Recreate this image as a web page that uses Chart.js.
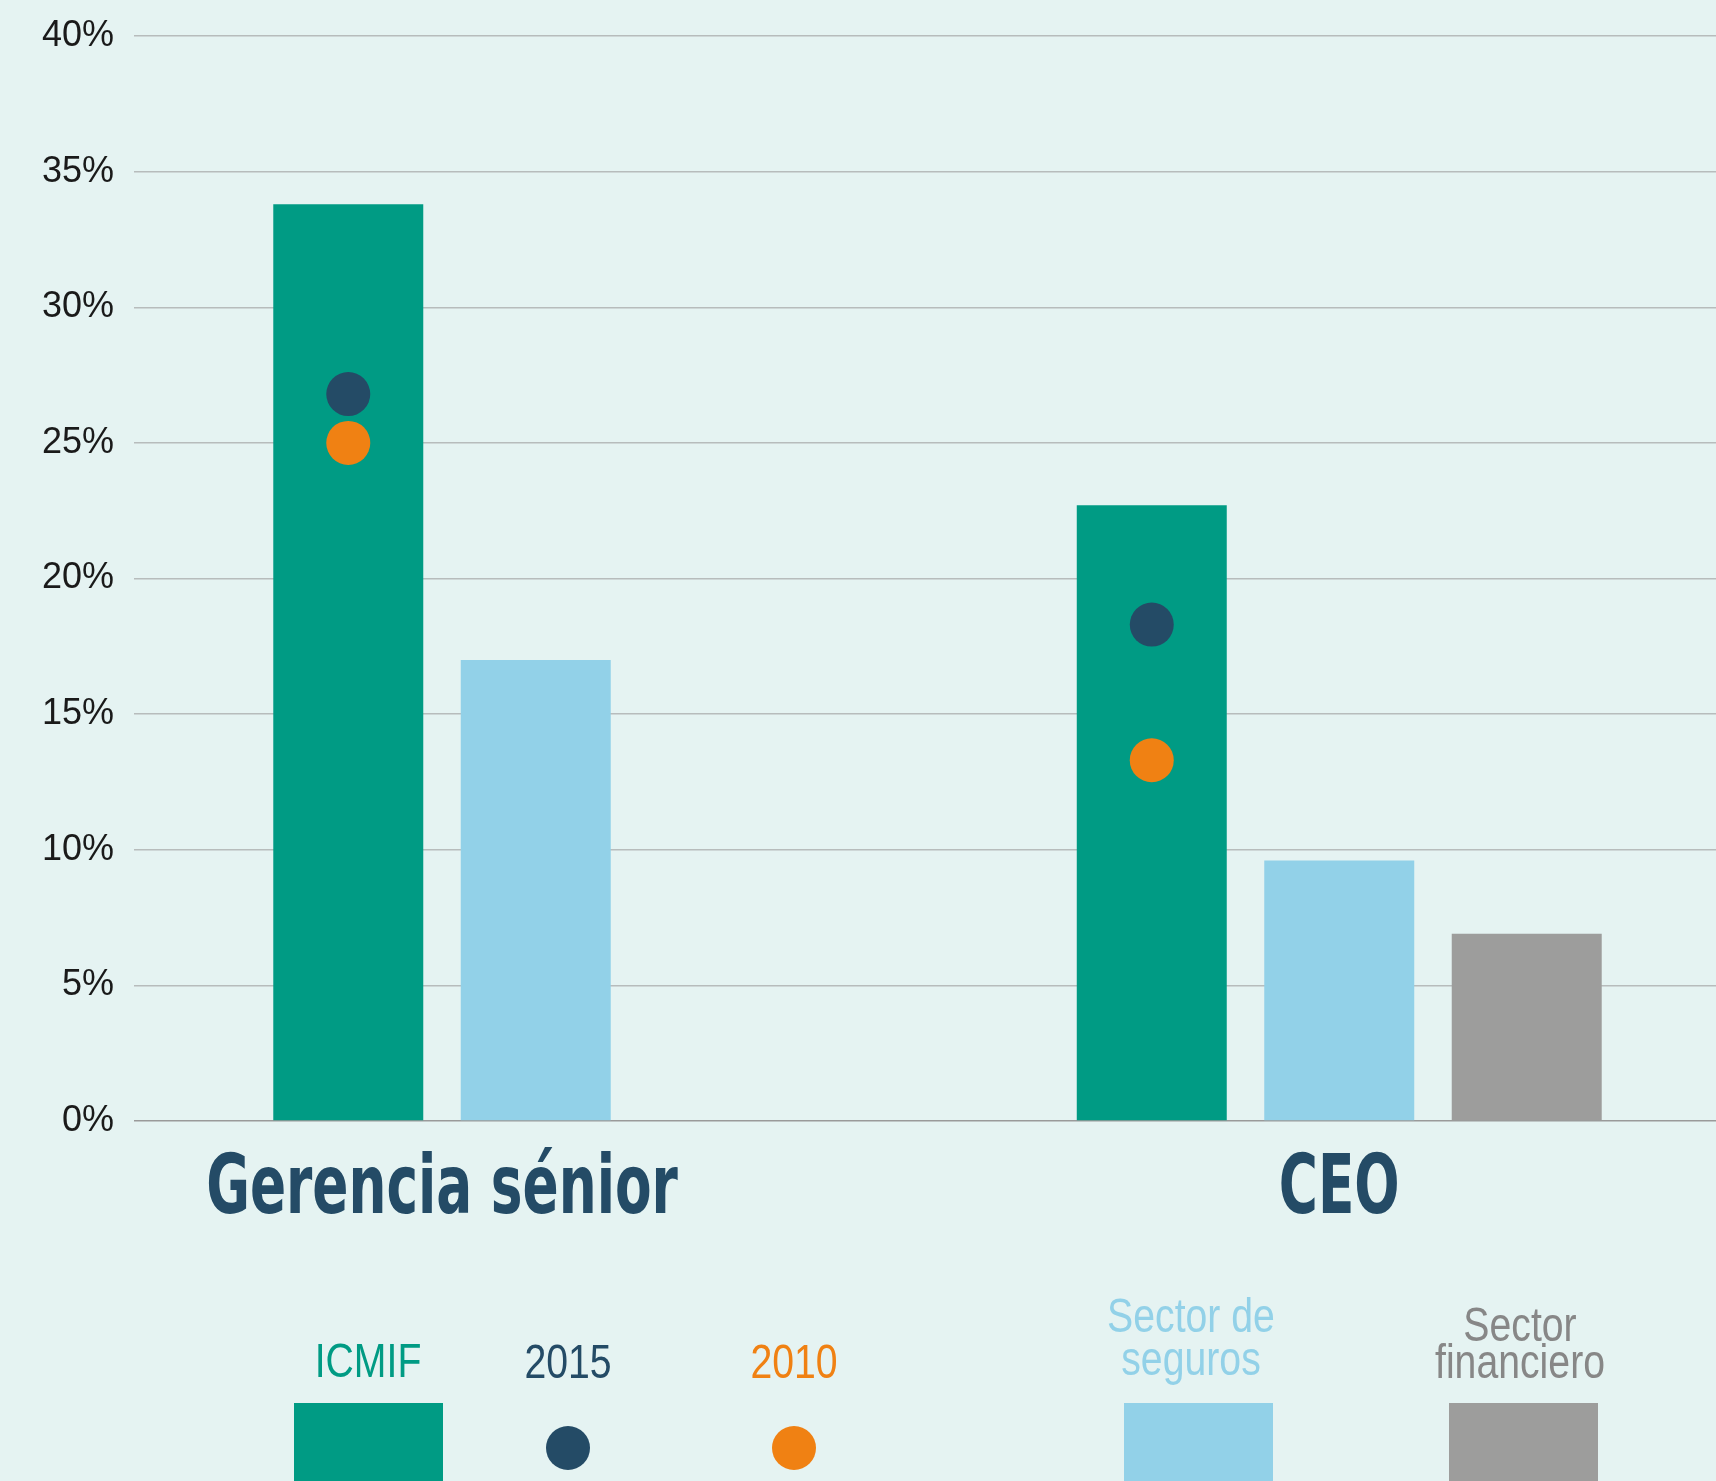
<!DOCTYPE html>
<html>
<head>
<meta charset="utf-8">
<title>ICMIF</title>
<script src="https://cdn.jsdelivr.net/npm/chart.js@4.4.1/dist/chart.umd.min.js"></script>
<style>
  html, body { margin: 0; padding: 0; background: #e5f3f2; overflow: hidden; }
  #wrap { position: relative; width: 1716px; height: 1481px; overflow: hidden; background: #e5f3f2; }
  #chart { position: absolute; left: 0; top: 0; }
</style>
</head>
<body>
<div id="wrap">
  <canvas id="chart" width="1741" height="1481"></canvas>
</div>
<script>
// Data
const categories = ["Gerencia sénior", "CEO"];
const icmif = [33.8, 22.7];
const sectorSeguros = [17.0, 9.6];
const sectorFinanciero = [null, 6.9];
const icmif2015 = [26.8, 18.3];
const icmif2010 = [25.0, 13.3];

const colors = {
  icmif: "#009b84",
  seguros: "#92d1e8",
  financiero: "#9d9d9c",
  y2015: "#244b66",
  y2010: "#f08113",
};

const FONT = '"Liberation Sans", Arial, sans-serif';

// legend layout (positions only)
const legendLayout = [
  { lines: ["ICMIF"], color: colors.icmif, text: colors.icmif, cx: 368, base: 1377, shape: "rect", sx: 294 },
  { lines: ["2015"], color: colors.y2015, text: colors.y2015, cx: 568, base: 1378, shape: "dot" },
  { lines: ["2010"], color: colors.y2010, text: colors.y2010, cx: 794, base: 1378, shape: "dot" },
  { lines: ["Sector de", "seguros"], color: colors.seguros, text: colors.seguros, cx: 1191, base: 1332, lh: 43, shape: "rect", sx: 1124 },
  { lines: ["Sector", "financiero"], color: colors.financiero, text: "#878787", cx: 1520, base: 1341, lh: 37, shape: "rect", sx: 1449 },
];

// put the year dots on top of the ICMIF bar of each category
const dotsOnBar = {
  id: "dotsOnBar",
  afterDatasetsUpdate(chart) {
    const bars = chart.getDatasetMeta(0).data;
    chart.data.datasets.forEach((ds, i) => {
      if (ds.type !== "line") return;
      chart.getDatasetMeta(i).data.forEach((pt, j) => {
        pt.x = bars[j].x;
      });
    });
  },
};

// category names and legend
const extraText = {
  id: "extraText",
  afterDraw(chart) {
    const ctx = chart.ctx;
    ctx.save();
    ctx.textAlign = "center";
    ctx.textBaseline = "alphabetic";

    // category labels, centred under the bars that have a value
    categories.forEach((name, j) => {
      const xs = [];
      chart.data.datasets.forEach((ds, i) => {
        if (ds.type === "line" || ds.data[j] == null) return;
        xs.push(chart.getDatasetMeta(i).data[j].x);
      });
      const cx = xs.reduce((a, b) => a + b, 0) / xs.length;
      ctx.save();
      ctx.translate(cx, 1213);
      ctx.scale(0.65, 1);
      ctx.fillStyle = colors.y2015;
      ctx.font = 'bold 82px "DejaVu Sans", sans-serif';
      ctx.fillText(name, 0, 0);
      ctx.restore();
    });

    // legend
    legendLayout.forEach((item) => {
      ctx.fillStyle = item.text;
      ctx.font = "49px " + FONT;
      item.lines.forEach((line, k) => {
        ctx.save();
        ctx.translate(item.cx, item.base + k * (item.lh || 0));
        ctx.scale(0.8, 1);
        ctx.fillText(line, 0, 0);
        ctx.restore();
      });
      ctx.fillStyle = item.color;
      if (item.shape === "rect") {
        ctx.fillRect(item.sx, 1403, 149, 80);
      } else {
        ctx.beginPath();
        ctx.arc(item.cx, 1448, 22, 0, Math.PI * 2);
        ctx.fill();
      }
    });
    ctx.restore();
  },
};

const ctx = document.getElementById("chart").getContext("2d");

new Chart(ctx, {
  data: {
    labels: categories,
    datasets: [
      { type: "bar", label: "ICMIF", data: icmif, backgroundColor: colors.icmif, order: 2 },
      { type: "bar", label: "Sector de seguros", data: sectorSeguros, backgroundColor: colors.seguros, order: 2 },
      { type: "bar", label: "Sector financiero", data: sectorFinanciero, backgroundColor: colors.financiero, order: 2 },
      {
        type: "line",
        label: "2015",
        data: icmif2015,
        showLine: false,
        pointRadius: 22,
        pointHoverRadius: 22,
        pointBorderWidth: 0,
        pointBackgroundColor: colors.y2015,
        order: 0,
      },
      {
        type: "line",
        label: "2010",
        data: icmif2010,
        showLine: false,
        pointRadius: 22,
        pointHoverRadius: 22,
        pointBorderWidth: 0,
        pointBackgroundColor: colors.y2010,
        order: 0,
      },
    ],
  },
  options: {
    responsive: false,
    animation: false,
    events: [],
    layout: { autoPadding: false, padding: { top: 36, bottom: 360, left: 0, right: 0 } },
    plugins: {
      legend: { display: false },
      tooltip: { enabled: false },
    },
    datasets: {
      bar: { categoryPercentage: 0.7, barPercentage: 0.8 },
    },
    scales: {
      x: {
        display: false,
        offset: true,
      },
      y: {
        min: 0,
        max: 40,
        border: { display: false },
        grid: {
          drawTicks: false,
          lineWidth: 1.5,
          color: (c) => (c.tick && c.tick.value === 0 ? "#9a9a9a" : "#b7bcbc"),
        },
        ticks: {
          stepSize: 5,
          padding: 20,
          color: "#1a1a1a",
          font: { family: FONT, size: 36 },
          callback: (v) => v + "%",
        },
        afterFit: (scale) => {
          scale.width = 134;
          scale.paddingTop = 0;
          scale.paddingBottom = 0;
        },
      },
    },
  },
  plugins: [dotsOnBar, extraText],
});
</script>
</body>
</html>
